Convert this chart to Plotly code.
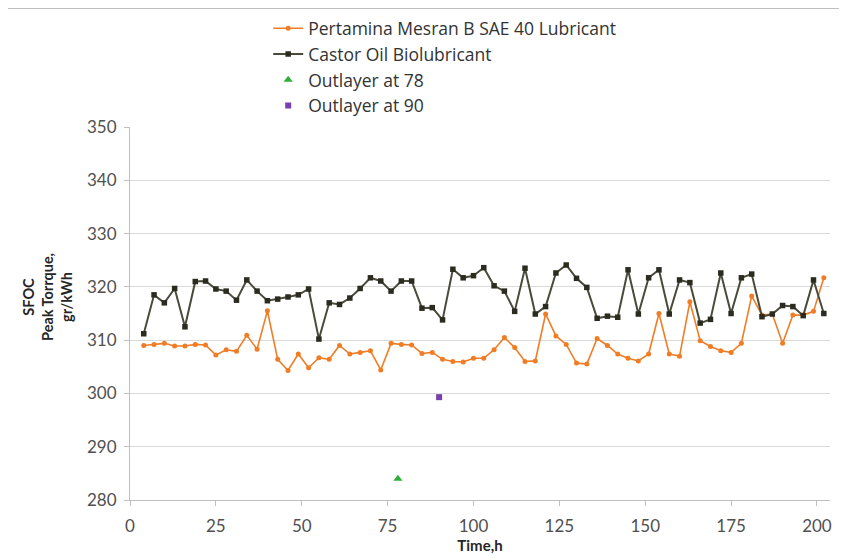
import plotly.graph_objects as go

time_h = [4, 7, 10, 13, 16, 19, 22, 25, 28, 31, 34, 37, 40, 43, 46, 49, 52, 55, 58, 61,
          64, 67, 70, 73, 76, 79, 82, 85, 88, 91, 94, 97, 100, 103, 106, 109, 112, 115, 118, 121,
          124, 127, 130, 133, 136, 139, 142, 145, 148, 151, 154, 157, 160, 163, 166, 169, 172, 175, 178, 181,
          184, 187, 190, 193, 196, 199, 202]

pertamina = [309.0, 309.2, 309.4, 308.9, 308.9, 309.2, 309.1, 307.2, 308.2, 307.9,
             310.9, 308.3, 315.5, 306.4, 304.3, 307.4, 304.8, 306.7, 306.4, 309.0,
             307.4, 307.7, 308.0, 304.4, 309.4, 309.2, 309.1, 307.5, 307.7, 306.4,
             306.0, 305.9, 306.6, 306.6, 308.2, 310.5, 308.6, 306.0, 306.1, 314.9,
             310.8, 309.2, 305.7, 305.5, 310.3, 309.0, 307.4, 306.6, 306.1, 307.4,
             315.0, 307.4, 307.0, 317.2, 309.9, 308.8, 308.0, 307.7, 309.4, 318.3,
             314.7, 314.9, 309.4, 314.7, 314.7, 315.4, 321.7]

castor = [311.2, 318.5, 317.0, 319.7, 312.5, 321.0, 321.1, 319.6, 319.2, 317.5,
          321.3, 319.2, 317.4, 317.7, 318.1, 318.5, 319.6, 310.2, 317.0, 316.7,
          317.9, 319.7, 321.7, 321.1, 319.2, 321.1, 321.1, 316.0, 316.1, 313.8,
          323.3, 321.7, 322.1, 323.6, 320.2, 319.2, 315.4, 323.5, 314.9, 316.3,
          322.6, 324.1, 321.6, 319.9, 314.1, 314.5, 314.3, 323.2, 314.9, 321.7,
          323.2, 314.9, 321.3, 320.8, 313.2, 313.9, 322.6, 315.0, 321.7, 322.4,
          314.4, 314.9, 316.5, 316.3, 314.6, 321.3, 315.0]

outlier78_x = [78]
outlier78_y = [284.0]
outlier90_x = [90]
outlier90_y = [299.3]

x_ticks = [0, 25, 50, 75, 100, 125, 150, 175, 200]
y_ticks = [280, 290, 300, 310, 320, 330, 340, 350]

font_family = "Lato, 'Open Sans', sans-serif"

fig = go.Figure()
fig.add_trace(go.Scatter(
    x=time_h, y=pertamina, mode="lines+markers",
    name="Pertamina Mesran B SAE 40 Lubricant",
    line=dict(color="#F07D26", width=1.6),
    marker=dict(symbol="circle", size=5, color="#F07D26"),
))
fig.add_trace(go.Scatter(
    x=time_h, y=castor, mode="lines+markers",
    name="Castor Oil Biolubricant",
    line=dict(color="#4A4A3A", width=2),
    marker=dict(symbol="square", size=5.5, color="#2B2B20"),
))
fig.add_trace(go.Scatter(
    x=outlier78_x, y=outlier78_y, mode="markers",
    name="Outlayer at 78",
    marker=dict(symbol="triangle-up", size=8, color="#2FAF3A"),
))
fig.add_trace(go.Scatter(
    x=outlier90_x, y=outlier90_y, mode="markers",
    name="Outlayer at 90",
    marker=dict(symbol="square", size=6, color="#7A3FB0"),
))

fig.update_layout(
    width=847, height=558,
    margin=dict(l=122, r=25, t=119, b=66, autoexpand=False),
    paper_bgcolor="white", plot_bgcolor="white",
    font=dict(family=font_family, color="#404040"),
    showlegend=True,
    legend=dict(
        x=0.1974, y=1.3126, xanchor="left", yanchor="top",
        font=dict(size=17.5, color="#333333", family="'Open Sans', Lato, sans-serif"),
        bgcolor="rgba(0,0,0,0)",
        itemwidth=30, tracegroupgap=0,
    ),
    xaxis=dict(
        range=[0, 203.8], tickvals=x_ticks, ticktext=[str(v) for v in x_ticks],
        showgrid=False, zeroline=False,
        showline=True, linecolor="#BFBFBF", linewidth=1,
        ticks="outside", ticklen=5, tickcolor="#BFBFBF",
        tickfont=dict(size=17, color="#505050"),
        ticklabelstandoff=6,
        title=dict(text="<b>Time,h</b>", font=dict(size=15, color="#262626"), standoff=2),
    ),
    yaxis=dict(
        range=[280, 350], tickvals=y_ticks, ticktext=[str(v) for v in y_ticks],
        showgrid=True, gridcolor="#D9D9D9", gridwidth=1, zeroline=False,
        showline=True, linecolor="#BFBFBF", linewidth=1,
        ticks="outside", ticklen=5, tickcolor="#BFBFBF",
        tickfont=dict(size=17, color="#505050"),
        ticklabelstandoff=4,
    ),
    annotations=[dict(
        text="<b>SFOC<br>Peak Torrque,<br>gr/kWh</b>",
        xref="paper", yref="paper", x=(47 - 130) / 700, y=(500 - 297) / 373,
        xanchor="center", yanchor="middle",
        textangle=-90, showarrow=False, align="center",
        font=dict(size=14.5, color="#262626"),
    )],
    shapes=[dict(type="line", xref="paper", yref="paper", x0=-0.2, x1=1.05,
                 y0=1 + 118.5 / 373, y1=1 + 118.5 / 373,
                 line=dict(color="#BFBFBF", width=1))],
)

fig.write_html("out.html")
